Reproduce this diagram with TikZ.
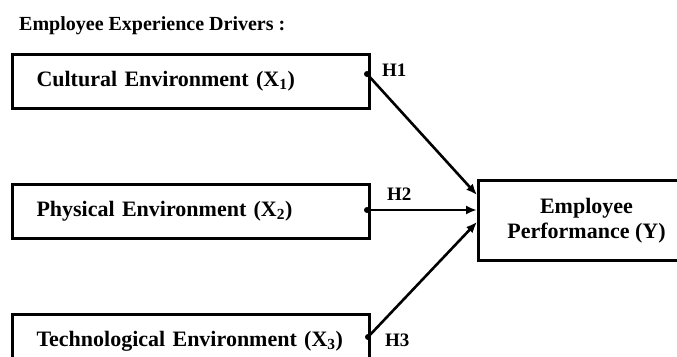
\documentclass[tikz,border=0pt]{standalone}
\usepackage{fontspec}
\setmainfont{Liberation Serif}
\usetikzlibrary{arrows.meta}

\tikzset{
  driver/.style={draw,line width=3pt,rectangle,anchor=north west,
    minimum height=54pt,text width=309pt,inner xsep=24pt,align=left,
    font=\fontsize{22}{26}\selectfont\bfseries},
  outcome/.style={draw,line width=3pt,rectangle,anchor=north west,
    minimum width=216pt,minimum height=80pt,align=center,
    font=\fontsize{22}{25}\selectfont\bfseries},
  hyp/.style={anchor=west,inner sep=0pt,font=\fontsize{19}{21}\selectfont\bfseries},
  tail/.style={circle,fill=black,inner sep=0pt,minimum size=6pt},
  path/.style={line width=2.6pt,-{Latex[length=11pt,width=9pt]}}
}

\begin{document}
\begin{tikzpicture}[x=1pt,y=-1pt]
        \clip (0,0) rectangle (677,356);

        \coordinate (D1) at (367,74);
        \coordinate (D2) at (367,210);
        \coordinate (D3) at (368,337);
        \coordinate (E1) at (477,195);
        \coordinate (E2) at (477,210);
        \coordinate (E3) at (477,222);

        \node[anchor=base west,inner sep=0pt,font=\fontsize{20}{24}\selectfont\bfseries] (title) at (19,30) {Employee Experience Drivers :};

        \node[driver] (cult) at (11,53) {Cultural Environment (X\textsubscript{1})};
        \node[driver] (phys) at (11,183) {Physical Environment (X\textsubscript{2})};
        \node[driver] (tech) at (11,313) {Technological Environment (X\textsubscript{3})};
        \node[outcome] (perf) at (477,179) {Employee\\Performance (Y)};

        \draw[path] (D1) -- (E1);
        \draw[path] (D2) -- (E2);
        \draw[path] (D3) -- (E3);

        \node[tail] at (D1) {};
        \node[tail] at (D2) {};
        \node[tail] at (D3) {};

        \node[hyp] (h1) at (382,70) {H1};
        \node[hyp] (h2) at (387,194) {H2};
        \node[hyp] (h3) at (385,340) {H3};
    \end{tikzpicture}
\end{document}
